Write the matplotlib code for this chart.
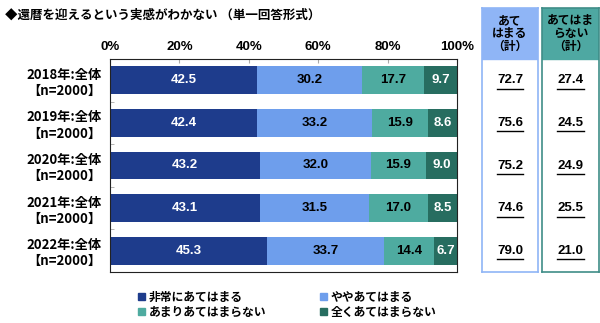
import matplotlib.pyplot as plt
import numpy as np
from matplotlib.patches import Patch, Rectangle

plt.rcParams['font.family'] = ['Noto Sans CJK JP', 'DejaVu Sans']

years = ['2018年:全体\n【n=2000】', '2019年:全体\n【n=2000】', '2020年:全体\n【n=2000】',
         '2021年:全体\n【n=2000】', '2022年:全体\n【n=2000】']
series_names = ['非常にあてはまる', 'ややあてはまる', 'あまりあてはまらない', '全くあてはまらない']
very = [42.5, 42.4, 43.2, 43.1, 45.3]
some = [30.2, 33.2, 32.0, 31.5, 33.7]
notmuch = [17.7, 15.9, 15.9, 17.0, 14.4]
notatall = [9.7, 8.6, 9.0, 8.5, 6.7]
applies_total = ['72.7', '75.6', '75.2', '74.6', '79.0']
notapplies_total = ['27.4', '24.5', '24.9', '25.5', '21.0']

colors = ['#1e3c8c', '#6e9eec', '#4eaba0', '#276d60']
text_colors = ['white', 'black', 'black', 'white']

W, H = 600, 323
fig = plt.figure(figsize=(6, 3.23), dpi=100)

def fbox(x0, y0, x1, y1):
    return [x0 / W, 1 - y1 / H, (x1 - x0) / W, (y1 - y0) / H]

ax = fig.add_axes(fbox(110, 59, 457, 272))
y = np.arange(len(years))
left = np.zeros(len(years))
for vals, c, tc in zip([very, some, notmuch, notatall], colors, text_colors):
    ax.barh(y, vals, left=left, color=c, height=0.65)
    for yi, (l, v) in enumerate(zip(left, vals)):
        ax.text(l + v / 2, yi, f'{v:.1f}', ha='center', va='center', color=tc,
                fontsize=9.5, fontweight='bold', family=['Liberation Sans', 'DejaVu Sans'])
    left = left + np.array(vals)

ax.set_xlim(0, 100)
ax.set_ylim(4.5, -0.5)
ax.xaxis.tick_top()
ax.set_xticks([0, 20, 40, 60, 80, 100])
ax.set_xticklabels(['0%', '20%', '40%', '60%', '80%', '100%'], fontsize=9.5, fontweight='bold',
                   family=['Liberation Sans', 'DejaVu Sans'])
ax.tick_params(axis='x', direction='in', length=3, color='#aaaaaa', pad=4)
ax.set_yticks(y)
ax.set_yticklabels(years, fontsize=9.5, fontweight='bold', multialignment='center')
ax.tick_params(axis='y', length=0, pad=6)
ax.set_yticks(np.arange(0.5, 4.5, 1), minor=True)
ax.tick_params(axis='y', which='minor', direction='in', length=3, color='#aaaaaa')
for s in ax.spines.values():
    s.set_color('#222222')
    s.set_linewidth(0.8)

fig.text(5 / W, 1 - 15 / H, '◆還暦を迎えるという実感がわかない （単一回答形式）', fontsize=9,
         fontweight='bold', va='center', ha='left')

# summary boxes
boxes = [(482, 538, '#8fb5f6', '#8fb5f6', 'あて\nはまる\n（計）', applies_total),
         (542, 599, '#4ea8a2', '#3f8d88', 'あてはま\nらない\n（計）', notapplies_total)]
for x0, x1, hc, ec, title, vals in boxes:
    bx = fig.add_axes(fbox(x0, 8, x1, 272))
    bx.set_xlim(0, 1)
    bx.set_ylim(4.5, -1.7)
    bx.set_xticks([])
    bx.set_yticks([])
    for s in bx.spines.values():
        s.set_color(ec)
        s.set_linewidth(1.2)
    bx.add_patch(Rectangle((0, -1.7), 1, 1.2, color=hc))
    bx.text(0.5, -1.1, title, ha='center', va='center', fontsize=8.5, fontweight='bold',
            linespacing=1.0)
    for yi, v in enumerate(vals):
        bx.text(0.5, yi, v, ha='center', va='center', fontsize=9.5, fontweight='bold',
                family=['Liberation Sans', 'DejaVu Sans'])
        bx.plot([0.27, 0.73], [yi + 0.2, yi + 0.2], color='black', lw=1)

order = [0, 2, 1, 3]
handles = [Patch(color=colors[i]) for i in order]
labels = [series_names[i] for i in order]
fig.legend(handles, labels, loc='upper left', bbox_to_anchor=(132 / W, 1 - 285 / H),
           ncol=2, frameon=False, prop={'weight': 'bold', 'size': 8.5},
           handlelength=0.6, handleheight=0.6, handletextpad=0.3, columnspacing=4.6,
           labelspacing=0.15, borderpad=0)

fig.savefig('out.png', dpi=100)
